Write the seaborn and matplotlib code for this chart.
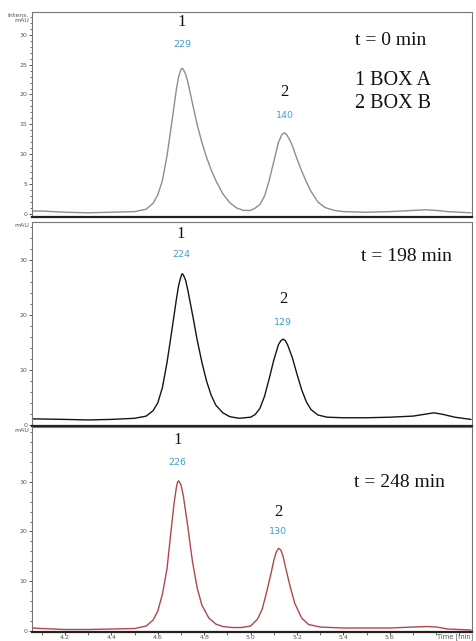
import numpy as np
import pandas as pd
import seaborn as sns
import matplotlib
matplotlib.use("Agg")
import matplotlib.pyplot as plt
from matplotlib.ticker import MultipleLocator

# ---------------- data ----------------
t0_time = [4.06, 4.10, 4.20, 4.30, 4.40, 4.50, 4.55, 4.58, 4.60, 4.62, 4.64, 4.66, 4.68, 4.69,
           4.70, 4.705, 4.71, 4.72, 4.73, 4.74, 4.75, 4.77, 4.79, 4.81, 4.83, 4.85, 4.88, 4.91,
           4.94, 4.97, 5.00, 5.02, 5.04, 5.06, 5.08, 5.10, 5.12, 5.135, 5.145, 5.155, 5.17,
           5.18, 5.20, 5.22, 5.24, 5.26, 5.29, 5.32, 5.36, 5.40, 5.50, 5.60, 5.70, 5.75,
           5.80, 5.85, 5.90, 5.95]
t0_int = [0.5, 0.5, 0.3, 0.2, 0.3, 0.4, 0.8, 1.8, 3.2, 5.6, 9.8, 15.2, 20.8, 23.0,
          24.2, 24.4, 24.2, 23.4, 22.0, 20.2, 18.4, 14.9, 12.0, 9.5, 7.4, 5.6, 3.4, 1.9,
          1.0, 0.6, 0.6, 1.0, 1.6, 3.0, 5.6, 8.8, 12.0, 13.3, 13.6, 13.3, 12.3,
          11.4, 9.2, 7.2, 5.4, 3.8, 2.0, 1.1, 0.6, 0.4, 0.3, 0.4, 0.6, 0.7,
          0.6, 0.4, 0.3, 0.2]

t198_time = [4.06, 4.20, 4.30, 4.40, 4.50, 4.55, 4.58, 4.60, 4.62, 4.64, 4.66, 4.68, 4.69,
             4.70, 4.705, 4.71, 4.72, 4.73, 4.75, 4.77, 4.79, 4.81, 4.83, 4.85, 4.88, 4.91,
             4.95, 5.00, 5.02, 5.04, 5.06, 5.08, 5.10, 5.12, 5.13, 5.14, 5.15, 5.16, 5.18,
             5.20, 5.22, 5.24, 5.26, 5.29, 5.33, 5.40, 5.50, 5.60, 5.70, 5.76, 5.79, 5.83,
             5.88, 5.95]
t198_int = [1.1, 1.0, 0.9, 1.0, 1.2, 1.6, 2.6, 4.0, 6.8, 11.4, 17.0, 22.8, 25.4,
            27.0, 27.5, 27.3, 26.3, 24.4, 20.0, 15.4, 11.4, 8.0, 5.4, 3.6, 2.2, 1.5,
            1.2, 1.4, 1.9, 3.0, 5.2, 8.4, 11.8, 14.6, 15.3, 15.6, 15.3, 14.5, 12.2,
            9.2, 6.4, 4.2, 2.8, 1.8, 1.4, 1.3, 1.3, 1.4, 1.6, 2.0, 2.2, 1.9,
            1.4, 1.0]

t248_time = [4.06, 4.10, 4.20, 4.30, 4.40, 4.50, 4.55, 4.58, 4.60, 4.62, 4.64, 4.66, 4.67,
             4.68, 4.685, 4.69, 4.70, 4.71, 4.72, 4.73, 4.74, 4.75, 4.77, 4.79, 4.82, 4.85,
             4.88, 4.92, 4.96, 5.00, 5.03, 5.05, 5.07, 5.09, 5.10, 5.11, 5.12, 5.13, 5.14,
             5.15, 5.17, 5.19, 5.22, 5.25, 5.30, 5.40, 5.50, 5.60, 5.70, 5.76, 5.80, 5.85,
             5.95]
t248_int = [0.6, 0.5, 0.3, 0.3, 0.4, 0.5, 1.0, 2.2, 4.0, 7.4, 12.6, 21.4, 25.6,
            28.8, 29.9, 30.2, 29.4, 27.2, 24.0, 20.8, 17.2, 13.8, 8.6, 5.2, 2.6, 1.4,
            0.9, 0.7, 0.7, 1.0, 2.4, 4.4, 8.0, 12.0, 14.2, 15.8, 16.6, 16.3, 15.0,
            12.9, 9.0, 5.6, 2.6, 1.3, 0.8, 0.6, 0.6, 0.6, 0.8, 0.9, 0.8, 0.4,
            0.2]

peak_ids = ["1", "2"]
peak_times = [[4.705, 5.146], [4.70, 5.14], [4.686, 5.12]]
peak_areas = [["229", "140"], ["224", "129"], ["226", "130"]]
panel_titles = ["t = 0 min", "t = 198 min", "t = 248 min"]
legend_lines = ["1 BOX A", "2 BOX B"]
x_ticks = [4.2, 4.4, 4.6, 4.8, 5.0, 5.2, 5.4, 5.6]
y_ticks = [[0, 5, 10, 15, 20, 25, 30], [0, 10, 20, 30], [0, 10, 20, 30]]
y_labels = ["Intens.\nmAU", "mAU", "mAU"]
x_label = "Time [min]"

# ---------------- styling / layout ----------------
sns.set_theme(style="white")
plt.rcParams['font.family'] = ['DejaVu Sans']

line_colors = ["#8e8e8e", "#151515", "#b0474d"]
ylims = [(-0.5, 33.8), (-0.2, 36.9), (-0.2, 41.0)]
minor_steps = [1, 2, 2]
# vertical positions (data units) of the id label and the area label per peak
id_label_y = [[32.2, 20.4], [34.7, 22.9], [38.4, 23.9]]
area_label_y = [[28.3, 16.4], [30.9, 18.7], [33.8, 19.9]]
title_pos = [(0.816, 0.863), (0.852, 0.833), (0.836, 0.727)]
legend_pos = [(0.82, 0.668), (0.82, 0.556)]

fig = plt.figure(figsize=(4.76, 6.41), dpi=100)
W, H = 476, 641
boxes = [(12, 217), (222, 426), (427, 632)]
left_px, right_px = 32, 472

frames = [pd.DataFrame({"time": t0_time, "intensity": t0_int}),
          pd.DataFrame({"time": t198_time, "intensity": t198_int}),
          pd.DataFrame({"time": t248_time, "intensity": t248_int})]

serif = ['Liberation Serif', 'DejaVu Serif']
blue = "#3fa0c8"

for i, (df, (top, bot)) in enumerate(zip(frames, boxes)):
    ax = fig.add_axes([left_px / W, 1 - bot / H, (right_px - left_px) / W, (bot - top) / H])
    sns.lineplot(data=df, x="time", y="intensity", ax=ax, color=line_colors[i],
                 linewidth=1.0, estimator=None, sort=False)
    ax.set_xlim(4.058, 5.954)
    ax.set_ylim(*ylims[i])
    ax.set_xlabel("")
    ax.set_ylabel("")
    ax.set_yticks(y_ticks[i])
    ax.yaxis.set_minor_locator(MultipleLocator(minor_steps[i]))
    ax.set_xticks(x_ticks)
    ax.xaxis.set_minor_locator(MultipleLocator(0.1))
    ax.tick_params(axis="both", which="major", direction="out", length=2.5, width=0.7,
                   labelsize=4.5, colors="#555555", pad=1.0, left=True, bottom=True)
    ax.tick_params(axis="both", which="minor", direction="out", length=1.5, width=0.6,
                   colors="#555555", left=True, bottom=True)
    ax.tick_params(axis="x", which="both", length=1.8, pad=0.3)
    if i < 2:
        ax.tick_params(axis="x", which="both", labelbottom=False, length=0)
    for s in ["top", "right", "left"]:
        ax.spines[s].set_color("#777777")
        ax.spines[s].set_linewidth(0.8)
    ax.spines["bottom"].set_color("#222222")
    ax.spines["bottom"].set_linewidth(1.6)

    # peak annotations
    for j in range(2):
        px = peak_times[i][j]
        ax.text(px, id_label_y[i][j], peak_ids[j], ha="center", va="center",
                fontsize=12, family=serif, color="#111111")
        ax.text(px, area_label_y[i][j], peak_areas[i][j], ha="center", va="center",
                fontsize=6.8, color=blue)

    ax.text(title_pos[i][0], title_pos[i][1], panel_titles[i], transform=ax.transAxes,
            ha="center", va="center", fontsize=14, family=serif, color="#111111")
    if i == 0:
        for k in range(2):
            ax.text(legend_pos[k][0], legend_pos[k][1], legend_lines[k], transform=ax.transAxes,
                    ha="center", va="center", fontsize=14.5, family=serif, color="#111111")
    fig.text(29 / W, 1 - (top + 1) / H, y_labels[i], ha="right", va="top",
             fontsize=4.5, color="#555555", linespacing=1.1)
    if i == 2:
        fig.text(473 / W, 1 - 636.5 / H, x_label, ha="right", va="center",
                 fontsize=4.8, color="#555555")

fig.savefig("out.png", dpi=100, facecolor="white")
